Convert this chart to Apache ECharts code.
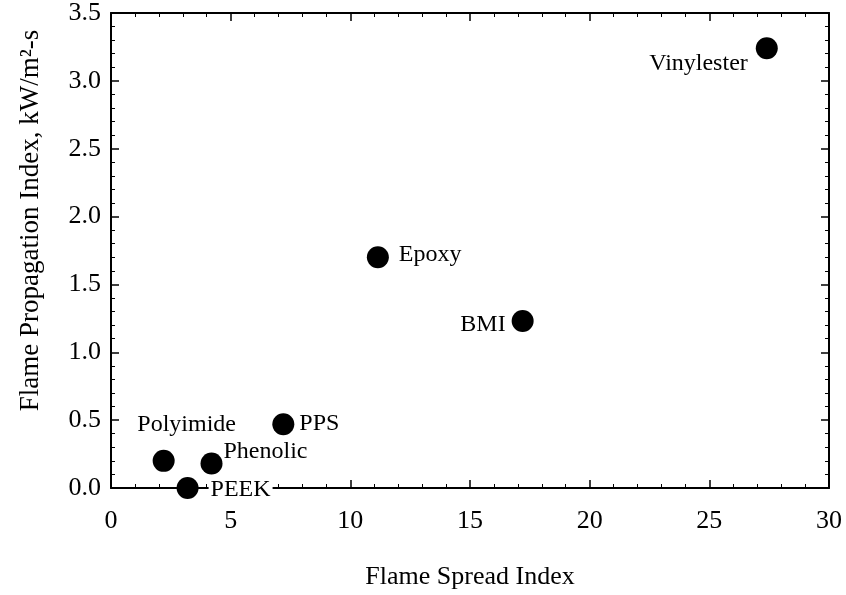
<!DOCTYPE html>
<html><head><meta charset="utf-8">
<script src="https://cdn.jsdelivr.net/npm/echarts@6/dist/echarts.min.js"></script>
<style>html,body{margin:0;padding:0;background:#fff}#c{width:846px;height:595px}</style>
</head><body><div id="c"></div>
<script>
const materials = ['Vinylester', 'Epoxy', 'BMI', 'PPS', 'Polyimide', 'Phenolic', 'PEEK'];
const flameSpread = [27.4, 11.15, 17.2, 7.2, 2.2, 4.2, 3.2];
const flamePropagation = [3.24, 1.7, 1.23, 0.47, 0.2, 0.18, 0.0];
const xTicks = [0, 5, 10, 15, 20, 25, 30];
const yTicks = [0.0, 0.5, 1.0, 1.5, 2.0, 2.5, 3.0, 3.5];

const FONT = 'Liberation Serif';
const labelStyle = {
  Vinylester: {position: 'left', distance: 8, offset: [0, 15]},
  Epoxy: {position: 'right', distance: 10, offset: [0, -3]},
  BMI: {position: 'left', distance: 6, offset: [0, 4]},
  PPS: {position: 'right', distance: 5, offset: [0, -1]},
  Polyimide: {position: 'top', distance: 13, offset: [23, 0]},
  Phenolic: {position: 'right', distance: 1, offset: [0, -12]},
  PEEK: {position: 'right', distance: 10, offset: [0, 2], backgroundColor: '#fff', padding: [0, 2]}
};
const data = materials.map((m, i) => ({
  name: m,
  value: [flameSpread[i], flamePropagation[i]],
  label: Object.assign({show: true, formatter: m, color: '#000', fontFamily: FONT, fontSize: 24}, labelStyle[m])
}));

const axisCommon = {
  z: 0,
  axisLine: {onZero: false, lineStyle: {color: '#000', width: 2}},
  axisTick: {inside: true, length: 8, lineStyle: {color: '#000', width: 1.5}},
  minorTick: {show: true, splitNumber: 5, length: 4, lineStyle: {color: '#000', width: 1}},
  splitLine: {show: false}
};
const chart = echarts.init(document.getElementById('c'));
chart.setOption({
  animation: false,
  grid: {left: 111, right: 17, top: 13, bottom: 106},
  xAxis: [
    Object.assign({type: 'value', min: xTicks[0], max: xTicks[xTicks.length - 1], interval: 5,
      name: 'Flame Spread Index', nameLocation: 'middle', nameGap: 76,
      nameTextStyle: {fontFamily: FONT, fontSize: 26, color: '#000'},
      axisLabel: {margin: 20, fontFamily: FONT, fontSize: 26, color: '#000'}}, axisCommon),
    Object.assign({type: 'value', position: 'top', min: 0, max: 30, interval: 5,
      axisLabel: {show: false}}, axisCommon)
  ],
  yAxis: [
    Object.assign({type: 'value', min: yTicks[0], max: yTicks[yTicks.length - 1], interval: 0.5,
      name: 'Flame Propagation Index, kW/m²-s', nameLocation: 'middle', nameGap: 67,
      nameTextStyle: {fontFamily: FONT, fontSize: 27, color: '#000', padding: [0, 0, 0, 60]},
      axisLabel: {margin: 10, fontFamily: FONT, fontSize: 26, color: '#000', formatter: v => v.toFixed(1)}}, axisCommon),
    Object.assign({type: 'value', position: 'right', min: 0, max: 3.5, interval: 0.5,
      axisLabel: {show: false}}, axisCommon)
  ],
  series: [{
    type: 'scatter',
    z: 5,
    data: data,
    clip: false,
    symbolSize: 22,
    itemStyle: {color: '#000', opacity: 1}
  }]
});
</script>
</body></html>
